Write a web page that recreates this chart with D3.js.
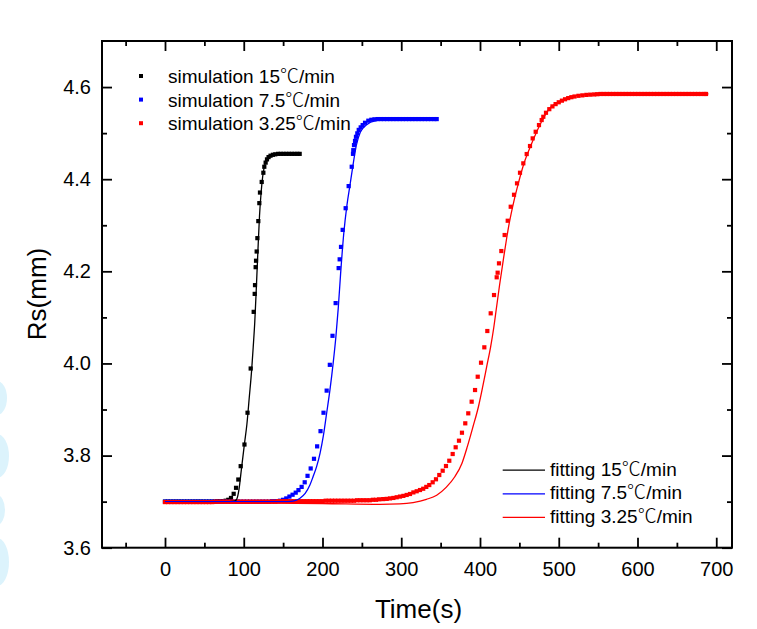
<!DOCTYPE html>
<html><head><meta charset="utf-8">
<script src="https://cdn.jsdelivr.net/npm/d3@7/dist/d3.min.js"></script>
<style>
html,body{margin:0;padding:0;background:#fff;}
svg{display:block;}
text{font-family:"Liberation Sans",Arial,"Noto Sans CJK SC",sans-serif;fill:#000;}
</style></head>
<body>
<svg id="chart" width="757" height="629"></svg>
<script>
// ---------- data ----------
const simLabels = ["simulation 15℃/min","simulation 7.5℃/min","simulation 3.25℃/min"];
const fitLabels = ["fitting 15℃/min","fitting 7.5℃/min","fitting 3.25℃/min"];
const seriesColors = ["#000000","#0000ff","#ff0000"];
const xTickLabels = [0,100,200,300,400,500,600,700];
const xMinorTicks = [-50,50,150,250,350,450,550,650];
const yTickLabels = [3.6,3.8,4.0,4.2,4.4,4.6];
const yMinorTicks = [3.7,3.9,4.1,4.3,4.5];

const simBlack = [[0,3.700],[3.5,3.700],[7,3.700],[10.5,3.700],[14,3.700],[17.5,3.700],[21,3.700],[24.5,3.700],[28,3.700],[31.5,3.700],[35,3.700],[38.5,3.700],[42,3.700],[45.5,3.700],[49,3.700],[52.5,3.700],[56,3.700],[59.5,3.700],[63,3.700],[66.5,3.701],[70,3.701],[73.5,3.701],[77,3.702],[80.4,3.704],[83.8,3.708],[87.2,3.717],[90.2,3.730],[93.1,3.748],[96.1,3.777],[100.9,3.824],[104.8,3.893],[108.8,3.989],[112.6,4.112],[113.9,4.151],[114.3,4.170],[115.1,4.209],[115.6,4.223],[116.4,4.243],[117.3,4.272],[118.5,4.309],[119.8,4.348],[120.6,4.371],[122.8,4.394],[124.9,4.414],[126.1,4.427],[127.8,4.436],[129.5,4.443],[131.5,4.448],[134,4.451],[137,4.453],[140,4.454],[143.5,4.455],[147,4.455],[150.5,4.455],[154,4.455],[157.5,4.455],[161,4.455],[164.5,4.455],[168,4.455],[171,4.455]];

const simBlue = [[0,3.700],[4,3.700],[8,3.700],[12,3.700],[16,3.700],[20,3.700],[24,3.700],[28,3.700],[32,3.700],[36,3.700],[40,3.700],[44,3.700],[48,3.700],[52,3.700],[56,3.700],[60,3.700],[64,3.700],[68,3.700],[72,3.700],[76,3.700],[80,3.700],[84,3.700],[88,3.700],[92,3.700],[96,3.700],[100,3.700],[104,3.700],[108,3.700],[112,3.700],[116,3.700],[120,3.700],[124,3.700],[128,3.700],[132,3.700],[136,3.701],[140,3.701],[143,3.701],[146,3.702],[150,3.704],[154,3.707],[158,3.711],[162,3.715],[166,3.7195],[169.5,3.725],[173.5,3.732],[177.4,3.742],[181,3.756],[185,3.772],[189.2,3.793],[193.2,3.820],[197.5,3.853],[201.3,3.893],[205.3,3.941],[209.3,3.997],[212.7,4.060],[216.7,4.131],[220.5,4.207],[221.8,4.226],[223.5,4.253],[225.6,4.290],[229.4,4.337],[233.2,4.385],[237.1,4.427],[238.7,4.455],[239.1,4.463],[240,4.474],[241.3,4.483],[242.5,4.492],[244.2,4.4995],[246,4.507],[248.5,4.5125],[251,4.5175],[254,4.5225],[258.2,4.527],[262,4.529],[266,4.530],[270,4.5305],[274,4.5305],[278,4.5305],[282,4.5305],[286,4.5305],[290,4.5305],[294,4.5305],[298,4.5305],[302,4.5305],[306,4.5305],[310,4.5305],[314,4.5305],[318,4.5305],[322,4.5305],[326,4.5305],[330,4.5305],[334,4.5305],[338,4.5305],[342,4.5305],[345,4.5305]];

const simRed = [[0,3.699],[4,3.699],[8,3.699],[12,3.699],[16,3.699],[20,3.699],[24,3.699],[28,3.699],[32,3.699],[36,3.699],[40,3.699],[44,3.699],[48,3.699],[52,3.699],[56,3.699],[60,3.699],[64,3.700],[68,3.700],[72,3.700],[76,3.700],[80,3.700],[84,3.700],[88,3.700],[92,3.700],[96,3.700],[100,3.700],[104,3.700],[108,3.700],[112,3.700],[116,3.700],[120,3.700],[124,3.700],[128,3.700],[132,3.700],[136,3.700],[140,3.700],[144,3.701],[148,3.701],[152,3.701],[156,3.701],[160,3.701],[164,3.701],[168,3.701],[172,3.701],[176,3.701],[180,3.701],[184,3.701],[188,3.701],[192,3.701],[196,3.701],[200,3.701],[204,3.702],[208,3.702],[212,3.702],[216,3.702],[220,3.702],[224,3.702],[228,3.702],[232,3.702],[236,3.702],[240,3.702],[244,3.703],[248,3.703],[252,3.703],[256,3.703],[260,3.703],[264,3.704],[268,3.704],[272,3.705],[277,3.7055],[281.5,3.706],[285.7,3.707],[290,3.708],[294.2,3.7095],[298.4,3.711],[302.7,3.7125],[306.9,3.7145],[311.1,3.7166],[315.4,3.720],[319.6,3.7225],[323.8,3.7252],[327.9,3.728],[331.8,3.732],[335.6,3.736],[339.9,3.742],[344.1,3.7485],[348.3,3.7578],[352.6,3.7671],[356.8,3.7773],[361,3.7888],[365.3,3.8034],[369.1,3.818],[373.3,3.8323],[377.1,3.8496],[381.3,3.870],[385.1,3.8917],[389.4,3.917],[393.7,3.9423],[397.1,3.9712],[401.3,4.0016],[405.5,4.035],[409.3,4.0704],[413.6,4.1088],[417.8,4.1485],[421.2,4.187],[422.4,4.197],[424.1,4.2173],[427.1,4.244],[431.3,4.2788],[435.2,4.3098],[439,4.3402],[443.2,4.3662],[447,4.391],[450.8,4.414],[455,4.4344],[459.3,4.4546],[463.5,4.472],[466.9,4.4886],[470.7,4.503],[474.9,4.5175],[478.3,4.5284],[480.4,4.5355],[483.8,4.5442],[488,4.552],[492,4.558],[496,4.563],[500,4.567],[504,4.5705],[508,4.5735],[512,4.576],[516,4.578],[520,4.5795],[525,4.581],[530,4.582],[535,4.583],[540,4.5835],[545,4.584],[549,4.5845],[553,4.585],[557,4.585],[561,4.585],[565,4.585],[569,4.585],[573,4.585],[577,4.585],[581,4.585],[585,4.585],[589,4.585],[593,4.585],[597,4.585],[601,4.585],[605,4.585],[609,4.585],[613,4.585],[617,4.585],[621,4.585],[625,4.585],[629,4.585],[633,4.585],[637,4.585],[641,4.585],[645,4.585],[649,4.585],[653,4.585],[657,4.585],[661,4.585],[665,4.585],[669,4.585],[673,4.585],[677,4.585],[681,4.585],[685,4.585],[687,4.585]];

const fitBlack = [[0,3.700],[40,3.700],[70,3.700],[82,3.700],[88,3.701],[91,3.705],[94,3.727],[97,3.770],[101,3.827],[104,3.868],[107,3.926],[110,3.985],[112,4.035],[114,4.090],[116,4.165],[118,4.245],[120,4.320],[122,4.370],[124,4.405],[126,4.426],[129,4.441],[133,4.450],[140,4.454],[150,4.455],[171,4.455]];

const fitBlue = [[0,3.700],[60,3.700],[120,3.700],[150,3.700],[160,3.7005],[165,3.702],[171,3.707],[178,3.718],[184,3.736],[188,3.754],[192.5,3.776],[197,3.806],[201,3.842],[205,3.889],[209.5,3.943],[213.5,4.000],[217,4.058],[220,4.120],[223,4.195],[227,4.282],[231,4.343],[235,4.388],[238.5,4.428],[243,4.474],[248,4.502],[256,4.518],[268,4.527],[285,4.530],[345,4.531]];

const fitRed = [[0,3.698],[100,3.697],[200,3.696],[273,3.694],[298,3.695],[315,3.698],[332,3.705],[345,3.714],[357,3.731],[368,3.754],[377,3.783],[384,3.820],[391,3.862],[398,3.906],[403.5,3.950],[408.5,3.993],[413.5,4.036],[417.5,4.078],[421,4.122],[425,4.172],[429.6,4.225],[433.5,4.268],[437.2,4.305],[443,4.352],[448.7,4.391],[456,4.435],[464.8,4.474],[472,4.503],[479,4.528],[484,4.543],[489,4.555],[495,4.563],[502,4.569],[510,4.575],[518,4.580],[530,4.583],[544,4.584],[570,4.585],[600,4.585],[690,4.585]];

const simSeries = [simBlack, simBlue, simRed];
const fitSeries = [fitBlack, fitBlue, fitRed];

// ---------- layout ----------
const svg = d3.select("#chart");
const L = 102, R = 732, T = 41, B = 547.7;
const x = d3.scaleLinear().domain([-80, 720]).range([L, R]);
const y = d3.scaleLinear().domain([3.6, 4.7]).range([B, T]);

// light-blue decoration at left edge
const deco = svg.append("g").attr("fill", "#dcf3fc");
[[398,10,17],[456,12,22],[510,8,15],[562,12,24]].forEach(d => {
  deco.append("ellipse").attr("cx", -3).attr("cy", d[0]).attr("rx", d[1]).attr("ry", d[2]);
});

svg.append("clipPath").attr("id","plotclip").append("rect")
  .attr("x", L).attr("y", T).attr("width", R - L).attr("height", B - T);

const plot = svg.append("g").attr("clip-path","url(#plotclip)");
const sq = 4.2;
simSeries.forEach((s, i) => {
  plot.append("g").attr("fill", seriesColors[i]).selectAll("rect").data(s).join("rect")
    .attr("x", d => x(d[0]) - sq/2).attr("y", d => y(d[1]) - sq/2)
    .attr("width", sq).attr("height", sq);
});
const line = d3.line().x(d => x(d[0])).y(d => y(d[1])).curve(d3.curveMonotoneX);
fitSeries.forEach((s, i) => {
  plot.append("path").datum(s).attr("d", line).attr("fill","none")
    .attr("stroke", seriesColors[i]).attr("stroke-width", 1.3);
});

// ---------- axes ----------
function styleAxis(g){
  g.select(".domain").remove();
  g.selectAll("line").attr("stroke","#000").attr("stroke-width",1.8);
  g.selectAll("text").attr("font-size", 20).attr("fill","#000")
    .attr("font-family", '"Liberation Sans",Arial,sans-serif');
}
svg.append("g").attr("transform",`translate(0,${B})`)
  .call(d3.axisBottom(x).tickValues(xTickLabels).tickFormat(d3.format("d")).tickSizeInner(-10).tickSizeOuter(0).tickPadding(14))
  .call(styleAxis);
svg.append("g").attr("transform",`translate(0,${B})`)
  .call(d3.axisBottom(x).tickValues(xMinorTicks).tickFormat("").tickSizeInner(-5).tickSizeOuter(0))
  .call(styleAxis);
svg.append("g").attr("transform",`translate(0,${T})`)
  .call(d3.axisTop(x).tickValues(xTickLabels).tickFormat("").tickSizeInner(-10).tickSizeOuter(0))
  .call(styleAxis);
svg.append("g").attr("transform",`translate(0,${T})`)
  .call(d3.axisTop(x).tickValues(xMinorTicks).tickFormat("").tickSizeInner(-5).tickSizeOuter(0))
  .call(styleAxis);
svg.append("g").attr("transform",`translate(${L},0)`)
  .call(d3.axisLeft(y).tickValues(yTickLabels).tickFormat(d3.format(".1f")).tickSizeInner(-10).tickSizeOuter(0).tickPadding(11))
  .call(styleAxis);
svg.append("g").attr("transform",`translate(${L},0)`)
  .call(d3.axisLeft(y).tickValues(yMinorTicks).tickFormat("").tickSizeInner(-5).tickSizeOuter(0))
  .call(styleAxis);
svg.append("g").attr("transform",`translate(${R},0)`)
  .call(d3.axisRight(y).tickValues(yTickLabels).tickFormat("").tickSizeInner(-10).tickSizeOuter(0))
  .call(styleAxis);
svg.append("g").attr("transform",`translate(${R},0)`)
  .call(d3.axisRight(y).tickValues(yMinorTicks).tickFormat("").tickSizeInner(-5).tickSizeOuter(0))
  .call(styleAxis);

svg.append("rect").attr("x", L).attr("y", T).attr("width", R - L).attr("height", B - T)
  .attr("fill","none").attr("stroke","#000").attr("stroke-width",2);

// axis titles
svg.append("text").attr("x", 418.5).attr("y", 618).attr("text-anchor","middle")
  .attr("font-size", 26).text("Time(s)");
svg.append("text").attr("transform","translate(46,294) rotate(-90)").attr("text-anchor","middle")
  .attr("font-size", 26).text("Rs(mm)");

// label writer: the ℃ sign is set in a CJK font like the reference
function writeLabel(t, lab){
  lab.split(/(℃)/).forEach(part => {
    if (!part) return;
    const ts = t.append("tspan").text(part);
    if (part === "℃") ts.attr("font-family", '"Noto Sans CJK SC","Noto Sans CJK JP",sans-serif').attr("font-weight", 300);
  });
}

// legends
const leg1 = svg.append("g");
simLabels.forEach((lab, i) => {
  const cy = 76 + i * 23.6;
  leg1.append("rect").attr("x", 141 - 2).attr("y", cy - 2).attr("width", 4).attr("height", 4).attr("fill", seriesColors[i]);
  writeLabel(leg1.append("text").attr("x", 168).attr("y", cy + 7.2).attr("font-size", 19), lab);
});
const leg2 = svg.append("g");
fitLabels.forEach((lab, i) => {
  const ly = 470.2 + i * 23.6;
  leg2.append("line").attr("x1", 502.7).attr("x2", 545).attr("y1", ly).attr("y2", ly)
    .attr("stroke", seriesColors[i]).attr("stroke-width", 1.3);
  writeLabel(leg2.append("text").attr("x", 550).attr("y", ly + 5.6).attr("font-size", 19), lab);
});
</script>
</body></html>
